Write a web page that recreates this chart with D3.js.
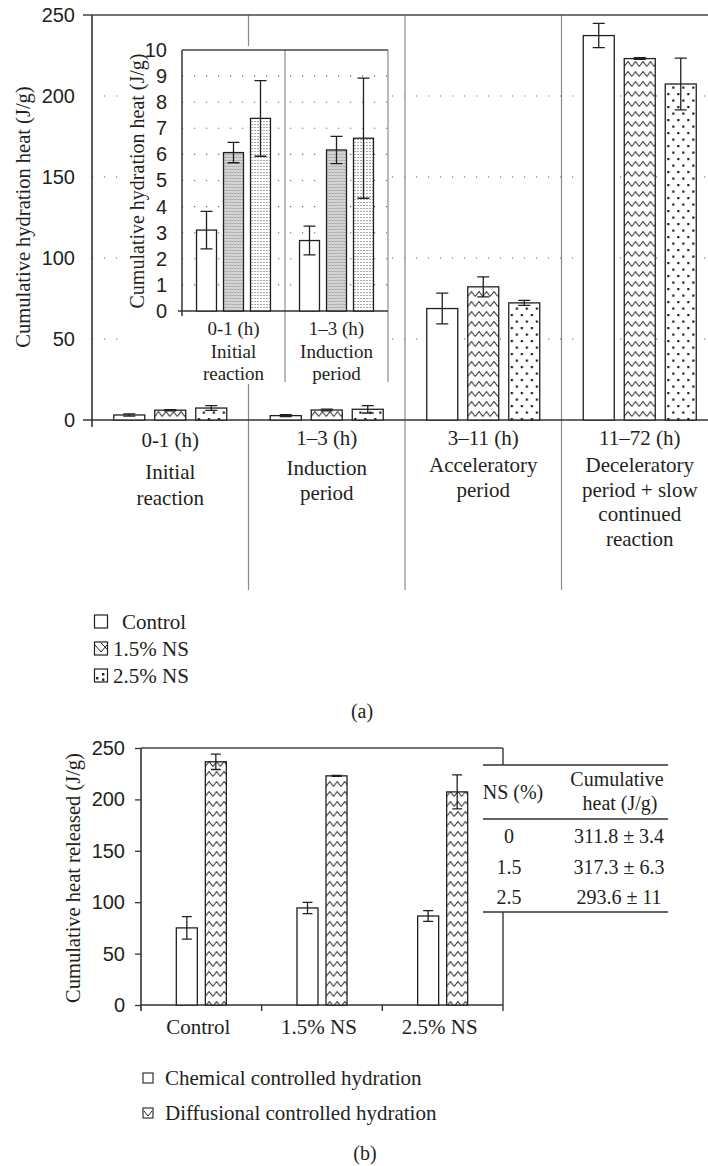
<!DOCTYPE html>
<html>
<head>
<meta charset="utf-8">
<script src="https://cdn.jsdelivr.net/npm/d3@7"></script>
<style>
  body { margin: 0; background: #fff; }
  svg text { fill: #231f20; }
</style>
</head>
<body>
<script>
// ---- data (a) ----
const phases = ["0-1 (h)", "1\u20133 (h)", "3\u201311 (h)", "11\u201372 (h)"];
const phaseNames = [
    ["Initial", "reaction"],
    ["Induction", "period"],
    ["Acceleratory", "period"],
    ["Deceleratory", "period + slow", "continued", "reaction"]
];
const mixes = ["Control", "1.5% NS", "2.5% NS"];
const heatControl = [3.1, 2.7, 68.8, 237.3];
const heatNS15 = [6.07, 6.17, 82.2, 223.1];
const heatNS25 = [7.38, 6.62, 72.3, 207.4];
const errControl = [0.72, 0.55, 9.5, 7.5];
const errNS15 = [0.39, 0.52, 6.2, 0.5];
const errNS25 = [1.45, 2.3, 1.6, 16];
const ticksMain = [0, 50, 100, 150, 200, 250];
const ticksInset = [0, 1, 2, 3, 4, 5, 6, 7, 8, 9, 10];

// ---- data (b) ----
const hydrationTypes = ["Chemical controlled hydration", "Diffusional controlled hydration"];
const chemical = [75, 94.4, 86.6];
const chemicalErr = [11, 5.5, 5.3];
const diffusional = [236.6, 222.9, 207.3];
const diffusionalErr = [7.5, 0.5, 16.5];
const tableNS = ["0", "1.5", "2.5"];
const tableHeat = ["311.8 \u00b1 3.4", "317.3 \u00b1 6.3", "293.6 \u00b1 11"];

const W = 708, H = 1166;
const ink = "#231f20", grey = "#8c8c8c";

const svg = d3.select("body").append("svg")
    .attr("width", W).attr("height", H)
    .style("font-family", "'Liberation Serif', 'Times New Roman', serif");

// ---- patterns ----
const defs = svg.append("defs");
const zig = defs.append("pattern").attr("id", "zigzag")
    .attr("patternUnits", "userSpaceOnUse").attr("width", 7.5).attr("height", 10);
zig.append("rect").attr("width", 7.5).attr("height", 10).attr("fill", "#fff");
zig.append("path").attr("d", "M0,6.5 L3.75,1.5 L7.5,6.5")
    .attr("fill", "none").attr("stroke", ink).attr("stroke-width", 1);

const dots = defs.append("pattern").attr("id", "dots")
    .attr("patternUnits", "userSpaceOnUse").attr("width", 10).attr("height", 13);
dots.append("rect").attr("width", 10).attr("height", 13).attr("fill", "#fff");
dots.append("rect").attr("x", 2).attr("y", 2).attr("width", 2.2).attr("height", 2.2).attr("fill", ink);
dots.append("rect").attr("x", 7).attr("y", 8.5).attr("width", 2.2).attr("height", 2.2).attr("fill", ink);

const fineZig = defs.append("pattern").attr("id", "fineZig")
    .attr("patternUnits", "userSpaceOnUse").attr("width", 3).attr("height", 3);
fineZig.append("rect").attr("width", 3).attr("height", 3).attr("fill", "#e0e0e0");
fineZig.append("path").attr("d", "M0,2.2 L1.5,0.8 L3,2.2")
    .attr("fill", "none").attr("stroke", "#777").attr("stroke-width", 0.7);

const fineDot = defs.append("pattern").attr("id", "fineDot")
    .attr("patternUnits", "userSpaceOnUse").attr("width", 3).attr("height", 3);
fineDot.append("rect").attr("width", 3).attr("height", 3).attr("fill", "#fff");
fineDot.append("rect").attr("x", 1).attr("y", 1).attr("width", 1).attr("height", 1).attr("fill", "#555");

const fillMain = d3.scaleOrdinal(mixes, ["#fff", "url(#zigzag)", "url(#dots)"]);
const fillInset = d3.scaleOrdinal(mixes, ["#fff", "url(#fineZig)", "url(#fineDot)"]);

function rows(phaseList) {
    const vals = [heatControl, heatNS15, heatNS25];
    const errs = [errControl, errNS15, errNS25];
    return phaseList.flatMap((p, j) => mixes.map((m, i) =>
        ({ phase: p, mix: m, v: vals[i][j], e: errs[i][j] })));
}

function hLine(g, x1, x2, y, color, w) {
    g.append("line").attr("x1", x1).attr("x2", x2).attr("y1", y).attr("y2", y)
        .attr("stroke", color).attr("stroke-width", w);
}
function vLine(g, x, y1, y2, color, w) {
    g.append("line").attr("x1", x).attr("x2", x).attr("y1", y1).attr("y2", y2)
        .attr("stroke", color).attr("stroke-width", w);
}

function drawBars(g, data, x, x1, y, fill, keyOf, cap) {
    const bars = g.append("g").selectAll("g").data(data).join("g")
        .attr("transform", d => `translate(${x(d.group) + x1(keyOf(d))},0)`);
    bars.append("rect")
        .attr("y", d => y(d.v)).attr("height", d => y(0) - y(d.v))
        .attr("width", x1.bandwidth())
        .attr("fill", d => fill(keyOf(d)))
        .attr("stroke", ink).attr("stroke-width", 1.3);
    const cx = x1.bandwidth() / 2;
    bars.append("path")
        .attr("d", d => `M${cx},${y(d.v + d.e)}V${y(d.v - d.e)}` +
            `M${cx - cap},${y(d.v + d.e)}H${cx + cap}` +
            `M${cx - cap},${y(d.v - d.e)}H${cx + cap}`)
        .attr("fill", "none").attr("stroke", ink).attr("stroke-width", 1.3);
}

// ================= chart (a) =================
const xA = d3.scaleBand().domain(phases).range([92, 718]);
const xA1 = d3.scaleBand().domain(mixes)
    .range([xA.bandwidth() * 0.139, xA.bandwidth() * 0.861]).paddingInner(0.244);
const yA = d3.scaleLinear().domain([0, 250]).range([420, 15]);
const gA = svg.append("g");

// dotted grid
gA.append("g").selectAll("line").data(ticksMain.filter(t => t > 0 && t < 250)).join("line")
    .attr("x1", 92).attr("x2", W).attr("y1", d => yA(d)).attr("y2", d => yA(d))
    .attr("stroke", "#666").attr("stroke-width", 1.1).attr("stroke-dasharray", "1.2,10.8");

// phase separators
gA.append("g").selectAll("line").data(phases.slice(1)).join("line")
    .attr("x1", d => xA(d)).attr("x2", d => xA(d)).attr("y1", yA(250)).attr("y2", 590)
    .attr("stroke", grey).attr("stroke-width", 1.2);

hLine(gA, 83, W, yA(250), "#444", 1.5);
hLine(gA, 83, W, yA(0), "#333", 1.6);
vLine(gA, 92, yA(250), yA(0) + 7, "#333", 1.6);

gA.append("g").attr("transform", "translate(92,0)")
    .call(d3.axisLeft(yA).tickValues(ticksMain).tickSize(0).tickPadding(17))
    .call(a => a.select(".domain").remove())
    .selectAll("text").attr("font-size", 20).attr("font-family", null).attr("fill", ink);

gA.append("text").attr("transform", "translate(23,217) rotate(-90)")
    .attr("text-anchor", "middle").attr("dy", "0.35em").attr("font-size", 20.5)
    .text("Cumulative hydration heat (J/g)");

drawBars(gA, rows(phases).map(d => ({ ...d, group: d.phase })), xA, xA1, yA, fillMain, d => d.mix, 6);

// category labels
const nameTop = [472, 468, 465, 465];
phases.forEach((p, j) => {
    const cx = xA(p) + xA.bandwidth() / 2;
    gA.append("text").attr("x", cx).attr("y", j === 0 ? 440 : 438).attr("dy", "0.35em")
        .attr("text-anchor", "middle").attr("font-size", 21).text(p);
    phaseNames[j].forEach((t, k) => {
        gA.append("text").attr("x", cx).attr("y", nameTop[j] + k * (j === 0 ? 26 : 24.5))
            .attr("dy", "0.35em").attr("text-anchor", "middle").attr("font-size", 21).text(t);
    });
});

// ---- inset ----
const xI = d3.scaleBand().domain(phases.slice(0, 2)).range([182, 388]);
const xI1 = d3.scaleBand().domain(mixes)
    .range([xI.bandwidth() * 0.141, xI.bandwidth() * 0.859]).paddingInner(0.26);
const yI = d3.scaleLinear().domain([0, 10]).range([311, 50]);
const gI = svg.append("g");

gI.append("rect").attr("x", 122).attr("y", 46).attr("width", 268).attr("height", 338).attr("fill", "#fff");

gI.append("g").selectAll("line").data(ticksInset.filter(t => t > 0 && t < 10)).join("line")
    .attr("x1", 182).attr("x2", 388).attr("y1", d => yI(d)).attr("y2", d => yI(d))
    .attr("stroke", "#666").attr("stroke-width", 1.1).attr("stroke-dasharray", "1.2,10.8");

gI.append("g").selectAll("line").data(phases.slice(1, 2).map(p => xI(p)).concat([388])).join("line")
    .attr("x1", d => d).attr("x2", d => d).attr("y1", yI(10)).attr("y2", 382)
    .attr("stroke", grey).attr("stroke-width", 1.2);

hLine(gI, 182, 388, yI(10), "#444", 1.4);
hLine(gI, 178, 388, yI(0), "#333", 1.5);
vLine(gI, 182, yI(10), yI(0) + 5, "#333", 1.5);

gI.append("g").attr("transform", "translate(182,0)")
    .call(d3.axisLeft(yI).tickValues(ticksInset).tickSize(0).tickPadding(15))
    .call(a => a.select(".domain").remove())
    .selectAll("text").attr("font-size", 20).attr("font-family", null).attr("fill", ink);

gI.append("text").attr("transform", "translate(137,181) rotate(-90)")
    .attr("text-anchor", "middle").attr("dy", "0.35em").attr("font-size", 20)
    .text("Cumulative hydration heat (J/g)");

drawBars(gI, rows(phases.slice(0, 2)).map(d => ({ ...d, group: d.phase })), xI, xI1, yI, fillInset, d => d.mix, 6);

phases.slice(0, 2).forEach((p, j) => {
    const cx = xI(p) + xI.bandwidth() / 2;
    [p].concat(phaseNames[j]).forEach((t, k) => {
        gI.append("text").attr("x", cx).attr("y", 328 + [0, 23, 45][k])
            .attr("dy", "0.35em").attr("text-anchor", "middle").attr("font-size", 19).text(t);
    });
});

// ---- legend (a) ----
const legA = svg.append("g");
mixes.forEach((m, i) => {
    const y0 = 615 + i * 27;
    legA.append("rect").attr("x", 94.5).attr("y", y0).attr("width", 13).attr("height", 13)
        .attr("fill", "#fff").attr("stroke", ink).attr("stroke-width", 1.2);
    if (i === 1) {
        legA.append("path")
            .attr("d", `M95,${y0 + 3}L101,${y0 + 10}L107,${y0 + 3}M101,${y0 + 1}L107,${y0 + 7}`)
            .attr("fill", "none").attr("stroke", ink).attr("stroke-width", 1);
    }
    if (i === 2) {
        [[96, y0 + 8], [102, y0 + 4], [102, y0 + 9.5]].forEach(([dx, dy]) =>
            legA.append("rect").attr("x", dx).attr("y", dy).attr("width", 2.4).attr("height", 2.4).attr("fill", ink));
    }
    legA.append("text").attr("x", i === 0 ? 122 : 113).attr("y", y0 + 7).attr("dy", "0.35em")
        .attr("font-size", 21).text(m);
});
svg.append("text").attr("x", 362).attr("y", 711).attr("dy", "0.35em")
    .attr("text-anchor", "middle").attr("font-size", 20).text("(a)");

// ================= chart (b) =================
const xB = d3.scaleBand().domain(mixes).range([141, 503]);
const xB1 = d3.scaleBand().domain(hydrationTypes)
    .range([xB.bandwidth() * 0.2927, xB.bandwidth() * 0.7073]).paddingInner(0.276);
const yB = d3.scaleLinear().domain([0, 250]).range([1005, 748]);
const gB = svg.append("g");
const fillB = d3.scaleOrdinal(hydrationTypes, ["#fff", "url(#zigzag)"]);

hLine(gB, 141, 503, yB(250), "#444", 1.5);
vLine(gB, 503, yB(250), yB(0) + 6, "#444", 1.5);
hLine(gB, 141, 503, yB(0), "#333", 1.6);
vLine(gB, 141, yB(250), yB(0) + 6, "#333", 1.6);
gB.append("g").selectAll("line").data(mixes.slice(1)).join("line")
    .attr("x1", d => xB(d)).attr("x2", d => xB(d)).attr("y1", yB(0)).attr("y2", yB(0) + 6)
    .attr("stroke", "#333").attr("stroke-width", 1.4);

gB.append("g").attr("transform", "translate(141,0)")
    .call(d3.axisLeft(yB).tickValues(ticksMain).tickSize(6).tickPadding(10))
    .call(a => a.select(".domain").remove())
    .call(a => a.selectAll("line").attr("stroke", "#333").attr("stroke-width", 1.3))
    .selectAll("text").attr("font-size", 20).attr("font-family", null).attr("fill", ink);

gB.append("text").attr("transform", "translate(73,878) rotate(-90)")
    .attr("text-anchor", "middle").attr("dy", "0.35em").attr("font-size", 20.5)
    .text("Cumulative heat released (J/g)");

const rowsB = mixes.flatMap((m, j) => [
    { group: m, type: hydrationTypes[0], v: chemical[j], e: chemicalErr[j] },
    { group: m, type: hydrationTypes[1], v: diffusional[j], e: diffusionalErr[j] }
]);
drawBars(gB, rowsB, xB, xB1, yB, fillB, d => d.type, 5);

gB.append("g").selectAll("text").data(mixes).join("text")
    .attr("x", d => xB(d) + xB.bandwidth() / 2 - 3).attr("y", 1027).attr("dy", "0.35em")
    .attr("text-anchor", "middle").attr("font-size", 21).text(d => d);

// table
const gT = svg.append("g");
gT.append("rect").attr("x", 482).attr("y", 765).attr("width", 190).attr("height", 147).attr("fill", "#fff");
hLine(gT, 483, 668, 765, "#333", 1.5);
hLine(gT, 483, 668, 819, "#333", 1.5);
hLine(gT, 483, 668, 912, "#333", 1.5);
gT.append("text").attr("x", 513).attr("y", 792).attr("dy", "0.35em")
    .attr("text-anchor", "middle").attr("font-size", 20).text("NS (%)");
gT.append("text").attr("x", 617).attr("y", 779).attr("dy", "0.35em")
    .attr("text-anchor", "middle").attr("font-size", 20).text("Cumulative");
gT.append("text").attr("x", 620).attr("y", 803).attr("dy", "0.35em")
    .attr("text-anchor", "middle").attr("font-size", 20).text("heat (J/g)");
tableNS.forEach((n, i) => {
    const y0 = 836 + i * 30.5;
    gT.append("text").attr("x", 509).attr("y", y0).attr("dy", "0.35em")
        .attr("text-anchor", "middle").attr("font-size", 20).text(n);
    gT.append("text").attr("x", 619).attr("y", y0).attr("dy", "0.35em")
        .attr("text-anchor", "middle").attr("font-size", 20).text(tableHeat[i]);
});

// legend (b)
const legB = svg.append("g");
hydrationTypes.forEach((t, i) => {
    const yc = 1078 + i * 35;
    legB.append("rect").attr("x", 143).attr("y", yc - 5).attr("width", 10).attr("height", 10)
        .attr("fill", "#fff").attr("stroke", ink).attr("stroke-width", 1.1);
    if (i === 1) {
        legB.append("path").attr("d", `M144,${yc - 2}L148,${yc + 3}L152,${yc - 2}`)
            .attr("fill", "none").attr("stroke", ink).attr("stroke-width", 1);
    }
    legB.append("text").attr("x", 165).attr("y", yc).attr("dy", "0.35em")
        .attr("font-size", 21).text(t);
});
svg.append("text").attr("x", 365).attr("y", 1153).attr("dy", "0.35em")
    .attr("text-anchor", "middle").attr("font-size", 20).text("(b)");
</script>
</body>
</html>
